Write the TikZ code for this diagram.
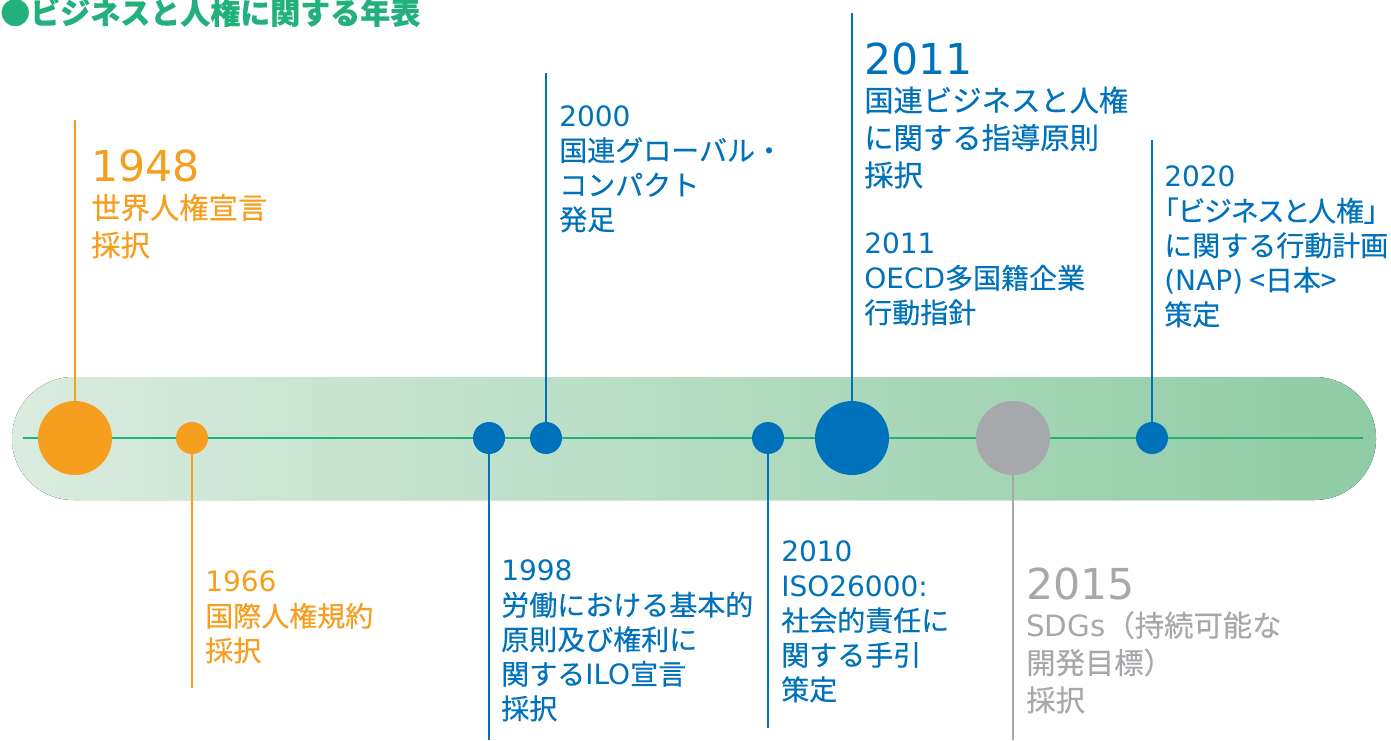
\documentclass[tikz,border=0pt]{standalone}
\usepackage{fontspec}
\setmainfont{Noto Sans CJK JP}[FakeBold=0.4]
\newfontfamily\latfont{DejaVu Sans}
\newcommand\lat[1]{{\latfont #1}}
\newcommand\bigyr[1]{{\latfont\fontsize{32}{28}\selectfont #1}}
\newcommand\prop[1]{{\addfontfeatures{RawFeature=+palt}#1}}
\usepackage{xcolor}
\definecolor{nenOrange}{RGB}{246,158,30}
\definecolor{nenBlue}{RGB}{0,114,188}
\definecolor{nenGray}{RGB}{167,168,172}
\definecolor{nenGreen}{RGB}{34,176,125}
\definecolor{bandL}{RGB}{218,236,223}
\definecolor{bandR}{RGB}{143,204,165}

\begin{document}
\begin{tikzpicture}[x=0.75pt,y=-0.75pt,
  evt/.style={circle,inner sep=0pt,minimum size=24pt},
  bigevt/.style={evt,minimum size=55.5pt},
  stem/.style={line width=1.9pt},
  txt/.style={anchor=base west,align=left,inner sep=0pt,font=\fontsize{21}{25.9}\selectfont},
  bigtxt/.style={txt,font=\fontsize{22}{28}\selectfont}]
  \useasboundingbox (0,0) rectangle (1391,740);
  % band and axis
  \fill[left color=bandL,right color=bandR,rounded corners=46pt] (12,377) rectangle (1376,500);
  \coordinate (axisL) at (23,438);
  \coordinate (axisR) at (1363,438);
  \draw[line width=2pt,nenGreen] (axisL) -- (axisR);
  \node[anchor=base west,inner sep=0pt,text=nenGreen,font=\fontsize{22.5}{27}\selectfont\bfseries] (title) at (0,24) {●ビジネスと人権に関する年表};

  % events
  \node[bigevt,fill=nenOrange] (e1948) at (75,438) {};
  \node[evt,fill=nenOrange] (e1966) at (192,438) {};
  \node[evt,fill=nenBlue] (e1998) at (489,438) {};
  \node[evt,fill=nenBlue] (e2000) at (546,438) {};
  \node[evt,fill=nenBlue] (e2010) at (768,438) {};
  \node[bigevt,fill=nenBlue] (e2011) at (852,438) {};
  \node[bigevt,fill=nenGray] (e2015) at (1013,438) {};
  \node[evt,fill=nenBlue] (e2020) at (1152,438) {};

  % stems
  \coordinate (s1948) at (75,120);
  \coordinate (s1966) at (192,688);
  \coordinate (s1998) at (489,740);
  \coordinate (s2000) at (546,73);
  \coordinate (s2010) at (768,728);
  \coordinate (s2011) at (852,13);
  \coordinate (s2015) at (1013,740);
  \coordinate (s2020) at (1152,140);
  \draw[stem,nenOrange] (e1948) -- (s1948);
  \draw[stem,nenOrange] (e1966) -- (s1966);
  \draw[stem,nenBlue] (e1998) -- (s1998);
  \draw[stem,nenBlue] (e2000) -- (s2000);
  \draw[stem,nenBlue] (e2010) -- (s2010);
  \draw[stem,nenBlue] (e2011) -- (s2011);
  \draw[stem,nenGray] (e2015) -- (s2015);
  \draw[stem,nenBlue] (e2020) -- (s2020);

  % labels (anchored at the last line)
  \node[bigtxt,text=nenOrange] (l1948) at (91,256) {\bigyr{1948}\\世界人権宣言\\採択};
  \node[txt,text=nenOrange] (l1966) at (205,661) {\lat{1966}\\国際人権規約\\採択};
  \node[txt,text=nenBlue] (l1998) at (501,719) {\lat{1998}\\労働における基本的\\原則及び権利に\\関する\lat{ILO}宣言\\採択};
  \node[txt,text=nenBlue] (l2000) at (559,230) {\lat{2000}\\国連グローバル・\\コンパクト\\発足};
  \node[txt,text=nenBlue] (l2010) at (781,700) {\lat{2010}\\\lat{ISO26000:}\\社会的責任に\\関する手引\\策定};
  \node[bigtxt,text=nenBlue] (l2011) at (864,186) {\bigyr{2011}\\国連ビジネスと人権\\に関する指導原則\\採択};
  \node[txt,text=nenBlue] (l2011b) at (864,323) {\lat{2011}\\\lat{OECD}多国籍企業\\行動指針};
  \node[bigtxt,text=nenGray] (l2015) at (1026,711) {\bigyr{2015}\\\lat{SDGs}（持続可能な\\開発目標）\\採択};
  \node[txt,text=nenBlue] (l2020) at (1164,325) {\lat{2020}\\\prop{「ビジネスと人権」}\\に関する行動計画\\\lat{(NAP)} <日本>\\策定};
\end{tikzpicture}
\end{document}
